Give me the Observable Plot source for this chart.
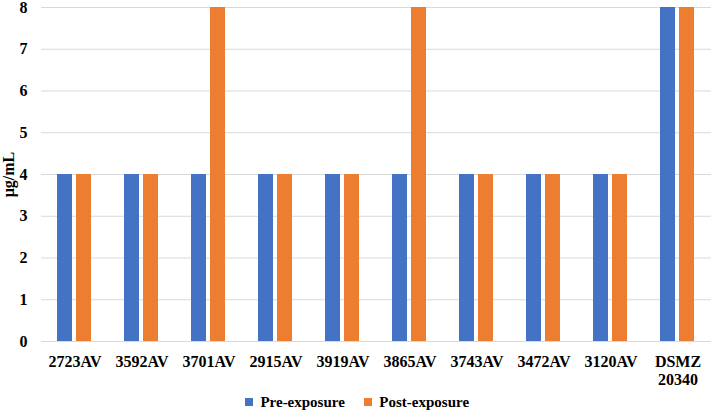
<!DOCTYPE html>
<html>
<head>
<meta charset="utf-8">
<script src="https://cdn.jsdelivr.net/npm/d3@7"></script>
<script src="https://cdn.jsdelivr.net/npm/@observablehq/plot@0.6"></script>
<style>
  html, body { margin: 0; padding: 0; background: #fff; }
  #chart { width: 714px; height: 392px; }
  #legend { display: flex; justify-content: center; margin: 0; height: 20px; padding-top: 0; align-items: center; }
  #legend > div { margin: 0 !important; min-height: 0 !important; }
  #legend > div > span { margin-right: 19px !important; }
  #legend > div > span:last-child { margin-right: 0 !important; }
</style>
</head>
<body>
<div id="chart"></div>
<script>
const categories = ["2723AV","3592AV","3701AV","2915AV","3919AV","3865AV","3743AV","3472AV","3120AV","DSMZ 20340"];
const series = ["Pre-exposure","Post-exposure"];
const preExposure  = [4,4,4,4,4,4,4,4,4,8];
const postExposure = [4,4,8,4,4,8,4,4,4,8];
const yTicks = [0,1,2,3,4,5,6,7,8];
const colors = ["#4472C4","#ED7D31"];

const data = [];
categories.forEach((c, i) => {
  data.push({cat: c, series: series[0], value: preExposure[i]});
  data.push({cat: c, series: series[1], value: postExposure[i]});
});

const font = "'Liberation Serif', 'Times New Roman', serif";

const plot = Plot.plot({
  width: 714,
  height: 392,
  marginLeft: 39,
  marginRight: 1,
  marginTop: 7,
  marginBottom: 51,
  style: {fontFamily: font, fontWeight: "bold", fontSize: "16px", color: "#000", background: "#fff"},
  fx: {domain: categories, padding: 0, label: null, axis: null},
  x: {domain: series, axis: null, paddingInner: 0.2, paddingOuter: 0.83},
  y: {domain: [0, 8], ticks: yTicks, tickSize: 0, tickPadding: 14, label: "μg/mL",
      labelArrow: false, labelAnchor: "center", labelOffset: 39},
  color: {domain: series, range: colors},
  marks: [
    Plot.gridY(yTicks.slice(1), {stroke: "#d9d9d9", strokeOpacity: 1}),
    Plot.ruleY([0], {stroke: "#d9d9d9"}),
    Plot.barY(data, {fx: "cat", x: "series", y: "value", fill: "series"}),
    Plot.axisFx({anchor: "bottom", tickSize: 0, tickPadding: 12, label: null, lineHeight: 1.15,
                 tickFormat: d => d.replace(" ", "\n")})
  ]
});
document.getElementById("chart").appendChild(plot);

const legend = plot.legend("color", {
  swatchSize: 8,
  style: {fontFamily: font, fontWeight: "bold", fontSize: "15px", color: "#000"}
});
const wrap = document.createElement("div");
wrap.id = "legend";
wrap.appendChild(legend);
document.body.appendChild(wrap);
</script>
</body>
</html>
